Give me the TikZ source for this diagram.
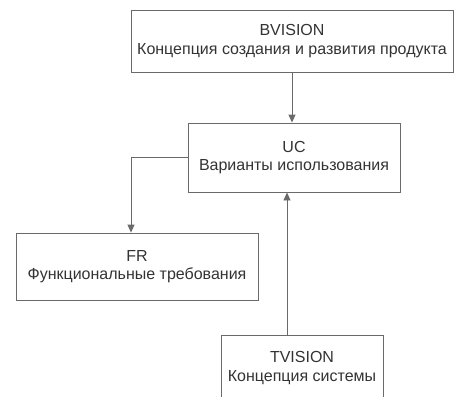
\documentclass[tikz,border=0pt]{standalone}
\usepackage{fontspec}
\setmainfont{Liberation Sans}
\usepackage{xcolor}
\usepackage{tikz}
\usetikzlibrary{arrows.meta,positioning}

\definecolor{linegray}{HTML}{6A6A6A}
\definecolor{textgray}{HTML}{333333}

\begin{document}
\begin{tikzpicture}[x=1pt, y=-1pt,
    every node/.style={font=\fontsize{16}{18.5}\selectfont, text=textgray},
    blk/.style={draw=linegray, line width=0.9pt, align=center, inner sep=0pt},
    arr/.style={draw=linegray, line width=0.9pt, -{Triangle[length=8pt,width=7pt]}}]
    \useasboundingbox (0,0) rectangle (454,396);
    \node (bv) [blk, minimum width=322pt, minimum height=62pt] at (292,41) {BVISION\\Концепция создания и развития продукта};
    \node (uc) [blk, minimum width=212pt, minimum height=69pt] at (294,157.5) {UC\\Варианты использования};
    \node (fr) [blk, minimum width=242pt, minimum height=67pt] at (137,266.5) {FR\\Функциональные требования};
    \node (tv) [blk, minimum width=162pt, minimum height=66pt] at (302,368) {TVISION\\Концепция системы};
    \draw[arr] (bv.south) -- (bv.south |- uc.north);
    \draw[arr] (uc.west) -| ([xshift=-6pt]fr.north);
    \draw[arr] ([xshift=-15pt]tv.north) -- ([xshift=-15pt]tv.north |- uc.south);
\end{tikzpicture}
\end{document}
